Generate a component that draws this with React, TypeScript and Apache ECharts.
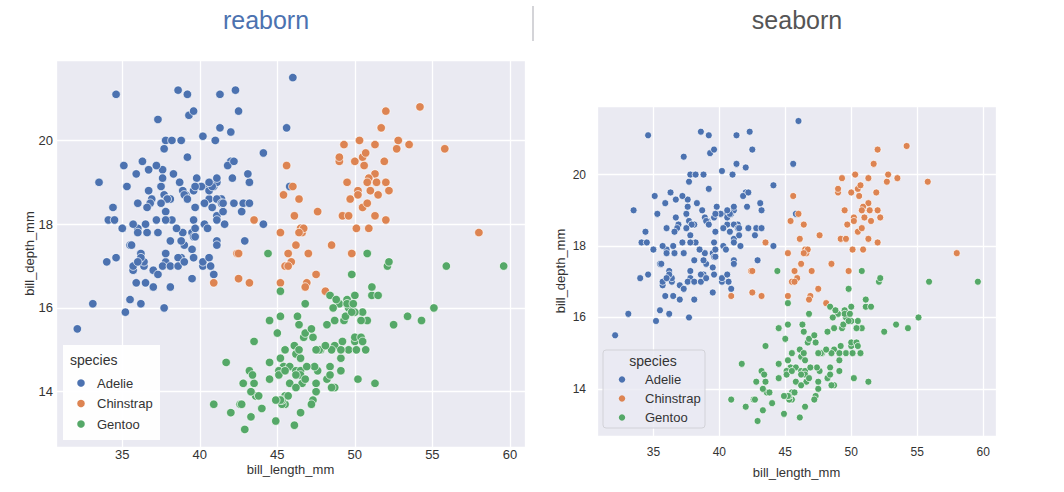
import React, { useEffect, useRef } from "react";
import * as echarts from "echarts";

const species = ["Adelie", "Chinstrap", "Gentoo"];
const colors = ["#4c72b0", "#dd8452", "#55a868"];
const panelTitles = ["reaborn", "seaborn"];
const xTitle = "bill_length_mm";
const yTitle = "bill_depth_mm";
const legendTitle = "species";

// [bill_length_mm, bill_depth_mm]
const adelie = [
  [39.1, 18.7], [39.5, 17.4], [40.3, 18.0], [36.7, 19.3], [39.3, 20.6], [38.9, 17.8], [39.2, 19.6], [34.1, 18.1],
  [42.0, 20.2], [37.8, 17.1], [37.8, 17.3], [41.1, 17.6], [38.6, 21.2], [34.6, 21.1], [36.6, 17.8], [38.7, 19.0],
  [42.5, 20.7], [34.4, 18.4], [46.0, 21.5], [37.8, 18.3], [37.7, 18.7], [35.9, 19.2], [38.2, 18.1], [38.8, 17.2],
  [35.3, 18.9], [40.6, 18.6], [40.5, 17.9], [37.9, 18.6], [40.5, 18.9], [39.5, 16.7], [37.2, 18.1], [39.5, 17.8],
  [40.9, 18.9], [36.4, 17.0], [39.2, 21.1], [38.8, 20.0], [42.2, 18.5], [37.6, 19.3], [39.8, 19.1], [36.5, 18.0],
  [40.8, 18.4], [36.0, 18.5], [44.1, 19.7], [37.0, 16.9], [39.6, 18.8], [41.1, 19.0], [37.5, 18.9], [36.0, 17.9],
  [42.3, 21.2], [39.6, 17.7], [40.1, 18.9], [35.0, 17.9], [42.0, 19.5], [34.5, 18.1], [41.4, 18.6], [39.0, 17.5],
  [40.6, 18.8], [36.5, 16.6], [37.6, 19.1], [35.7, 16.9], [41.3, 21.1], [37.6, 17.0], [41.1, 18.2], [36.4, 17.1],
  [41.6, 18.0], [35.5, 16.2], [41.1, 19.1], [35.9, 16.6], [41.8, 19.4], [33.5, 19.0], [39.7, 18.4], [39.6, 17.2],
  [45.8, 18.9], [35.5, 17.5], [42.8, 18.5], [40.9, 16.8], [37.2, 19.4], [36.2, 16.1], [42.1, 19.1], [34.6, 17.2],
  [42.9, 17.6], [36.7, 18.8], [35.1, 19.4], [37.3, 17.8], [41.3, 20.3], [36.3, 19.5], [36.9, 18.6], [38.3, 19.2],
  [38.9, 18.8], [35.7, 18.0], [41.1, 18.1], [34.0, 17.1], [39.6, 18.1], [36.2, 17.3], [40.8, 18.9], [38.1, 18.6],
  [40.3, 18.5], [33.1, 16.1], [43.2, 18.5], [35.0, 17.9], [41.0, 20.0], [37.7, 16.0], [37.8, 20.0], [37.9, 18.6],
  [39.7, 18.9], [38.6, 17.2], [38.2, 20.0], [38.1, 17.0], [43.2, 19.0], [38.1, 16.5], [45.6, 20.3], [39.7, 17.7],
  [42.2, 19.5], [39.6, 20.7], [42.7, 18.3], [38.6, 17.0], [37.3, 20.5], [35.7, 17.0], [41.1, 18.6], [36.2, 17.2],
  [37.7, 19.8], [40.2, 17.0], [41.4, 18.5], [35.2, 15.9], [40.6, 19.0], [38.8, 17.6], [41.5, 18.3], [39.0, 17.1],
  [44.1, 18.0], [38.5, 17.9], [43.1, 19.2], [36.8, 18.5], [37.5, 18.5], [38.1, 17.6], [41.1, 17.5], [35.6, 17.5],
  [40.2, 20.1], [37.0, 16.5], [39.7, 17.9], [40.2, 17.1], [40.6, 17.2], [32.1, 15.5], [40.7, 17.0], [37.3, 16.8],
  [39.0, 18.7], [39.2, 18.6], [36.6, 18.4], [36.0, 17.8], [37.8, 18.1], [36.0, 17.1], [41.5, 18.5],
];

const chinstrap = [
  [46.5, 17.9], [50.0, 19.5], [51.3, 19.2], [45.4, 18.7], [52.7, 19.8], [45.2, 17.8], [46.1, 18.2], [51.3, 18.2],
  [46.0, 18.9], [51.3, 19.9], [46.6, 17.8], [51.7, 20.3], [47.0, 17.3], [52.0, 18.1], [45.9, 17.1], [50.5, 19.6],
  [50.3, 20.0], [58.0, 17.8], [46.4, 18.6], [49.2, 18.2], [42.4, 17.3], [48.5, 17.5], [43.2, 16.6], [50.6, 19.4],
  [46.7, 17.9], [52.0, 19.0], [50.5, 18.4], [49.5, 19.0], [46.4, 17.8], [52.8, 20.0], [40.9, 16.6], [54.2, 20.8],
  [42.5, 16.7], [51.0, 18.8], [49.7, 18.6], [47.5, 16.8], [47.6, 18.3], [52.0, 20.7], [46.9, 16.6], [53.5, 19.9],
  [49.0, 19.5], [46.2, 17.5], [50.9, 19.1], [45.5, 17.0], [50.9, 17.9], [50.8, 18.5], [50.1, 17.9], [49.0, 19.6],
  [51.5, 18.7], [49.8, 17.3], [48.1, 16.4], [51.4, 19.0], [45.7, 17.3], [50.7, 19.7], [42.5, 17.3], [52.2, 18.8],
  [45.2, 16.6], [49.3, 19.9], [50.2, 18.8], [45.6, 19.4], [51.9, 19.5], [46.8, 16.5], [45.7, 17.0], [55.8, 19.8],
  [43.5, 18.1], [49.6, 18.2], [50.8, 19.0], [50.2, 18.7],
];

const gentoo = [
  [46.1, 13.2], [50.0, 16.3], [48.7, 14.1], [50.0, 15.2], [47.6, 14.5], [46.5, 13.5], [45.4, 14.6], [46.7, 15.3],
  [43.3, 13.4], [46.8, 15.4], [40.9, 13.7], [49.0, 16.1], [45.5, 13.7], [48.4, 14.6], [45.8, 14.6], [49.3, 15.7],
  [42.0, 13.5], [49.2, 15.2], [46.2, 14.5], [48.7, 15.1], [50.2, 14.3], [45.1, 14.5], [46.5, 14.5], [46.3, 15.8],
  [42.9, 13.1], [46.1, 15.1], [44.5, 14.3], [47.8, 15.0], [48.2, 14.3], [50.0, 15.3], [47.3, 15.3], [42.8, 14.2],
  [45.1, 14.5], [59.6, 17.0], [49.1, 14.8], [48.4, 16.3], [42.6, 13.7], [44.4, 17.3], [44.0, 13.6], [48.7, 15.7],
  [42.7, 13.7], [49.6, 16.0], [45.3, 13.7], [49.6, 15.0], [50.5, 15.9], [43.6, 13.9], [45.5, 13.9], [50.5, 15.9],
  [44.9, 13.3], [45.2, 15.8], [46.6, 14.2], [48.5, 14.1], [45.1, 14.4], [50.1, 15.0], [46.5, 14.4], [45.0, 15.4],
  [43.8, 13.9], [45.5, 15.0], [43.2, 14.5], [50.4, 15.3], [45.3, 13.8], [46.2, 14.9], [45.7, 13.9], [54.3, 15.7],
  [45.8, 14.2], [49.8, 16.8], [46.2, 14.4], [49.5, 16.2], [43.5, 14.2], [50.7, 15.0], [47.7, 15.0], [46.4, 15.6],
  [48.2, 15.6], [46.5, 14.8], [46.4, 15.0], [48.6, 16.0], [47.5, 14.2], [51.1, 16.3], [45.2, 13.8], [45.2, 16.4],
  [49.1, 14.5], [52.5, 15.6], [47.4, 14.6], [50.0, 15.9], [44.9, 13.8], [50.8, 17.3], [43.4, 14.4], [51.3, 14.2],
  [47.5, 14.0], [52.1, 17.0], [47.5, 15.0], [52.2, 17.1], [45.5, 14.5], [49.5, 16.1], [44.5, 14.7], [50.8, 15.7],
  [49.4, 15.8], [46.9, 14.6], [48.4, 14.4], [51.1, 16.5], [48.5, 15.0], [55.9, 17.0], [47.2, 15.5], [49.1, 15.0],
  [47.3, 13.8], [46.8, 16.1], [41.7, 14.7], [53.4, 15.8], [43.3, 14.0], [48.1, 15.1], [50.5, 15.2], [49.8, 15.9],
  [43.5, 15.2], [51.5, 16.3], [46.2, 14.1], [55.1, 16.0], [44.5, 15.7], [48.8, 16.2], [47.2, 13.7], [46.8, 14.3],
  [50.4, 15.7], [45.2, 14.8], [49.9, 16.1],
];

const xRange = [30.725, 60.975];
const yRange = [12.68, 21.92];

const FONT = "'Liberation Sans', Arial, Helvetica, sans-serif";
const TXT = "#333333";

export default function App() {
  const ref = useRef<HTMLDivElement>(null);

  useEffect(() => {
    if (!ref.current) return;
    const chart = echarts.init(ref.current, undefined, { renderer: "svg" });
    const datasets = [adelie, chinstrap, gentoo];

    const grids = [
      { left: 56, top: 60, width: 469, height: 387 },
      { left: 597, top: 106, width: 399, height: 330 },
    ];
    const cfg = [
      { tick: 13, xMargin: 1, yMargin: 3, xGap: 16, yGap: 20, sym: 8.5 },
      { tick: 12, xMargin: 10, yMargin: 11, xGap: 30, yGap: 30, sym: 7 },
    ];

    const xAxes = cfg.map((c, i) => ({
      type: "value",
      gridIndex: i,
      min: xRange[0],
      max: xRange[1],
      splitNumber: 6,
      name: xTitle,
      nameLocation: "middle",
      nameGap: c.xGap,
      nameMoveOverlap: false,
      nameTextStyle: { fontFamily: FONT, fontSize: 13, color: TXT },
      axisLine: { show: false },
      axisTick: { show: false },
      axisLabel: {
        fontFamily: FONT,
        fontSize: c.tick,
        color: TXT,
        margin: c.xMargin,
        showMinLabel: false,
        showMaxLabel: false,
        formatter: (v: number) => (Math.abs(v % 5) < 1e-6 ? String(v) : ""),
      },
      splitLine: { show: true, lineStyle: { color: "#ffffff", width: 1.3 } },
    }));

    const yAxes = cfg.map((c, i) => ({
      type: "value",
      gridIndex: i,
      min: yRange[0],
      max: yRange[1],
      splitNumber: 5,
      name: yTitle,
      nameLocation: "middle",
      nameRotate: 90,
      nameGap: c.yGap,
      nameMoveOverlap: false,
      nameTextStyle: { fontFamily: FONT, fontSize: 13, color: TXT },
      axisLine: { show: false },
      axisTick: { show: false },
      axisLabel: {
        fontFamily: FONT,
        fontSize: c.tick,
        color: TXT,
        margin: c.yMargin,
        showMinLabel: false,
        showMaxLabel: false,
        formatter: (v: number) => (Math.abs(v % 2) < 1e-6 ? String(v) : ""),
      },
      splitLine: { show: true, lineStyle: { color: "#ffffff", width: 1.3 } },
    }));

    const series: any[] = [];
    cfg.forEach((c, gi) => {
      species.forEach((name, si) => {
        series.push({
          type: "scatter",
          name,
          xAxisIndex: gi,
          yAxisIndex: gi,
          data: datasets[si],
          symbol: "circle",
          symbolSize: c.sym,
          itemStyle: { color: colors[si], borderColor: "#ffffff", borderWidth: 0.7, opacity: 1 },
          emphasis: { disabled: true },
        });
      });
    });

    const legendLeft: any[] = [
      { type: "rect", shape: { x: 63, y: 345, width: 97, height: 95 }, style: { fill: "#ffffff", opacity: 0.92 }, z: 100 },
      {
        type: "text", x: 70, y: 360, z: 101,
        style: { text: legendTitle, fontFamily: FONT, fontSize: 14, fill: TXT, verticalAlign: "middle", align: "left" },
      },
    ];
    const leftYs = [383, 403.5, 424];
    species.forEach((name, i) => {
      legendLeft.push({ type: "circle", shape: { cx: 81, cy: leftYs[i], r: 3.8 }, style: { fill: colors[i] }, z: 101 });
      legendLeft.push({
        type: "text", x: 97, y: leftYs[i], z: 101,
        style: { text: name, fontFamily: FONT, fontSize: 13, fill: TXT, verticalAlign: "middle", align: "left" },
      });
    });

    const legendRight: any[] = [
      {
        type: "rect",
        shape: { x: 603, y: 350, width: 102, height: 78, r: 3 },
        style: { fill: "rgba(234,234,242,0.8)", stroke: "#d2d2d8", lineWidth: 1 },
        z: 100,
      },
      {
        type: "text", x: 653, y: 361, z: 101,
        style: { text: legendTitle, fontFamily: FONT, fontSize: 14, fill: TXT, verticalAlign: "middle", align: "center" },
      },
    ];
    const rightYs = [379.5, 398.5, 417.5];
    species.forEach((name, i) => {
      legendRight.push({ type: "circle", shape: { cx: 622, cy: rightYs[i], r: 3.2 }, style: { fill: colors[i] }, z: 101 });
      legendRight.push({
        type: "text", x: 645, y: rightYs[i], z: 101,
        style: { text: name, fontFamily: FONT, fontSize: 13, fill: TXT, verticalAlign: "middle", align: "left" },
      });
    });

    const titles: any[] = [
      {
        type: "text", x: 266, y: 20, z: 101,
        style: { text: panelTitles[0], fontFamily: FONT, fontSize: 25, fill: "#4c72b0", align: "center", verticalAlign: "middle" },
      },
      {
        type: "text", x: 797, y: 20, z: 101,
        style: { text: panelTitles[1], fontFamily: FONT, fontSize: 25, fill: "#555555", align: "center", verticalAlign: "middle" },
      },
      { type: "line", shape: { x1: 533, y1: 6, x2: 533, y2: 41 }, style: { stroke: "#d4d4d8", lineWidth: 2 }, z: 101 },
    ];

    chart.setOption({
      animation: false,
      backgroundColor: "#ffffff",
      grid: grids.map((g) => ({ ...g, show: true, backgroundColor: "#eaeaf2", borderWidth: 0, containLabel: false })),
      xAxis: xAxes,
      yAxis: yAxes,
      series,
      graphic: [...titles, ...legendLeft, ...legendRight],
    });

    return () => chart.dispose();
  }, []);

  return (
    <div
      ref={ref}
      style={{ position: "absolute", left: 0, top: 0, width: 1064, height: 492 }}
    />
  );
}
